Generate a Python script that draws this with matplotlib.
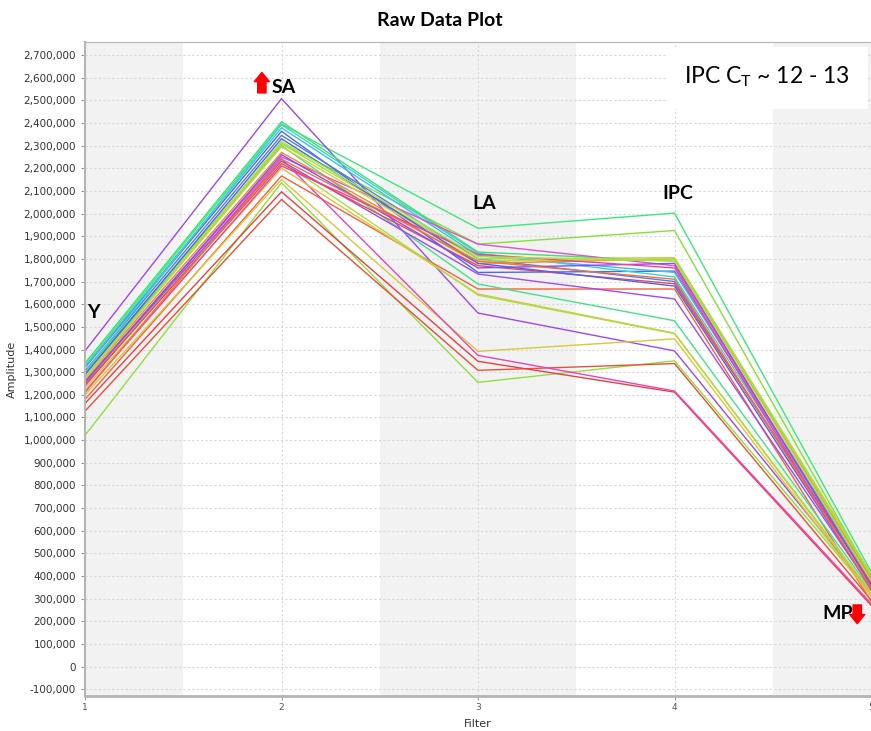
import matplotlib
matplotlib.use("Agg")
import matplotlib.pyplot as plt
from matplotlib.patches import FancyArrowPatch, Rectangle
from matplotlib.ticker import FuncFormatter

plt.rcParams['mathtext.fontset'] = 'custom'
plt.rcParams['mathtext.rm'] = 'Lato'
plt.rcParams['mathtext.it'] = 'Lato:italic'

# ==========================================
# DATA (amplitude per filter, one row per well)
# ==========================================

filters = [1, 2, 3, 4, 5]

series_values = [
    [1330000, 2395000, 1935000, 2002000, 420000],
    [1300000, 2310000, 1865000, 1925000, 400000],
    [1394000, 2507000, 1561000, 1394000, 330000],
    [1021000, 2136000, 1255000, 1350000, 320000],
    [1128000, 2062000, 1308000, 1338000, 295000],
    [1162000, 2096000, 1348000, 1212000, 272000],
    [1180000, 2166000, 1667000, 1667000, 290000],
    [1200000, 2150000, 1392000, 1447000, 310000],
    [1240000, 2242000, 1374000, 1217000, 280000],
    [1230000, 2200000, 1645000, 1472000, 320000],
    [1290000, 2300000, 1689000, 1527000, 340000],
    [1250000, 2230000, 1640000, 1470000, 330000],
    [1260000, 2232000, 1733000, 1623000, 350000],
    [1320000, 2363000, 1740000, 1746000, 380000],
    [1305000, 2345000, 1800000, 1700000, 370000],
    [1322000, 2378000, 1815000, 1740000, 390000],
    [1300000, 2392000, 1825000, 1720000, 380000],
    [1340000, 2405000, 1830000, 1790000, 400000],
    [1260000, 2250000, 1865000, 1770000, 360000],
    [1270000, 2270000, 1780000, 1800000, 390000],
    [1280000, 2295000, 1790000, 1800000, 400000],
    [1275000, 2308000, 1800000, 1805000, 410000],
    [1245000, 2220000, 1770000, 1690000, 370000],
    [1255000, 2260000, 1760000, 1780000, 360000],
    [1290000, 2330000, 1780000, 1680000, 350000],
    [1215000, 2210000, 1820000, 1760000, 340000],
    [1210000, 2240000, 1790000, 1710000, 350000],
    [1270000, 2318000, 1810000, 1790000, 380000],
]

series_colors = [
    '#3de87a', '#86e03a', '#9b48f0', '#8fe040', '#e8503a', '#e84040',
    '#f0643c', '#d8c83a', '#e845b8', '#e0c040', '#45e08a', '#a8e040',
    '#a04cf0', '#4a6ae8', '#4a80f0', '#3cc0e0', '#40d0d0', '#40e070',
    '#e050d0', '#f08a30', '#d0d040', '#9ee040', '#f04848', '#8a4cf0',
    '#5060f0', '#f040a0', '#f07040', '#b0e040',
]

y_ticks = list(range(-100000, 2700001, 100000))

# ==========================================
# PLOT
# ==========================================

fig = plt.figure(figsize=(8.71, 7.31), dpi=100)
# x=5 sits right on the right edge, as in the original export
ax = fig.add_axes([85 / 871, 1 - 696 / 731, 786 / 871, 654 / 731])

ax.set_xlim(1, 5)
ax.set_ylim(-129000, 2757000)

# alternating background bands
for lo, hi in [(1, 1.5), (2.5, 3.5), (4.5, 5)]:
    ax.axvspan(lo, hi, color='#f2f2f2', zorder=0, lw=0)

ax.grid(True, color='#d8d8d8', linestyle=(0, (2, 2)), linewidth=0.8, zorder=1)

for vals, col in zip(series_values, series_colors):
    ax.plot(filters, vals, color=col, linewidth=1.0, zorder=2)

ax.set_xticks(filters)
ax.set_yticks(y_ticks)
ax.yaxis.set_major_formatter(FuncFormatter(lambda v, p: f"{int(v):,}"))
ax.tick_params(axis='y', labelsize=7.5, labelcolor='#333333', color='#999999', length=3)
ax.tick_params(axis='x', labelsize=6.5, labelcolor='#555555', color='#999999', length=3, pad=2)

for side in ['left', 'bottom', 'top']:
    ax.spines[side].set_color('#b5b5b5')
ax.spines['left'].set_linewidth(1.5)
ax.spines['bottom'].set_linewidth(2)
ax.spines['right'].set_visible(False)

ax.set_xlabel("Filter", fontsize=8, color='#333333', labelpad=5)
ax.set_ylabel("Amplitude", fontsize=8, color='#333333', labelpad=5)

fig.text(0.505, 1 - 20 / 731, "Raw Data Plot", ha='center', va='center',
         fontsize=14, fontweight='bold', family='Lato')

# region labels
label_kw = dict(fontsize=14, fontweight='bold', family='Lato', va='center', zorder=5)
ax.text(1.01, 1565000, "Y", **label_kw)
ax.text(1.95, 2558000, "SA", **label_kw)
ax.text(2.97, 2046000, "LA", **label_kw)
ax.text(3.94, 2090000, "IPC", **label_kw)
ax.text(4.75, 237000, "MP", **label_kw)

# red arrows
arrow_style = 'simple,head_width=0.9,head_length=0.55,tail_width=0.5'
up = FancyArrowPatch((1.90, 2520000), (1.90, 2635000), arrowstyle=arrow_style,
                     mutation_scale=12, color='red', zorder=6)
ax.add_patch(up)
down = FancyArrowPatch((4.93, 285000), (4.93, 178000), arrowstyle=arrow_style,
                       mutation_scale=12, color='red', zorder=6, clip_on=False)
ax.add_patch(down)

# annotation box
box = Rectangle((668 / 871, 1 - 109 / 731), 200 / 871, 62 / 731,
                transform=fig.transFigure, facecolor='white', edgecolor='none', zorder=5)
fig.patches.append(box)
fig.text(767 / 871, 1 - 77 / 731, r"IPC C$_\mathrm{T}$ ~ 12 - 13", ha='center', va='center',
         fontsize=16.5, family='Lato', zorder=6)

fig.savefig("out.png", dpi=100)
